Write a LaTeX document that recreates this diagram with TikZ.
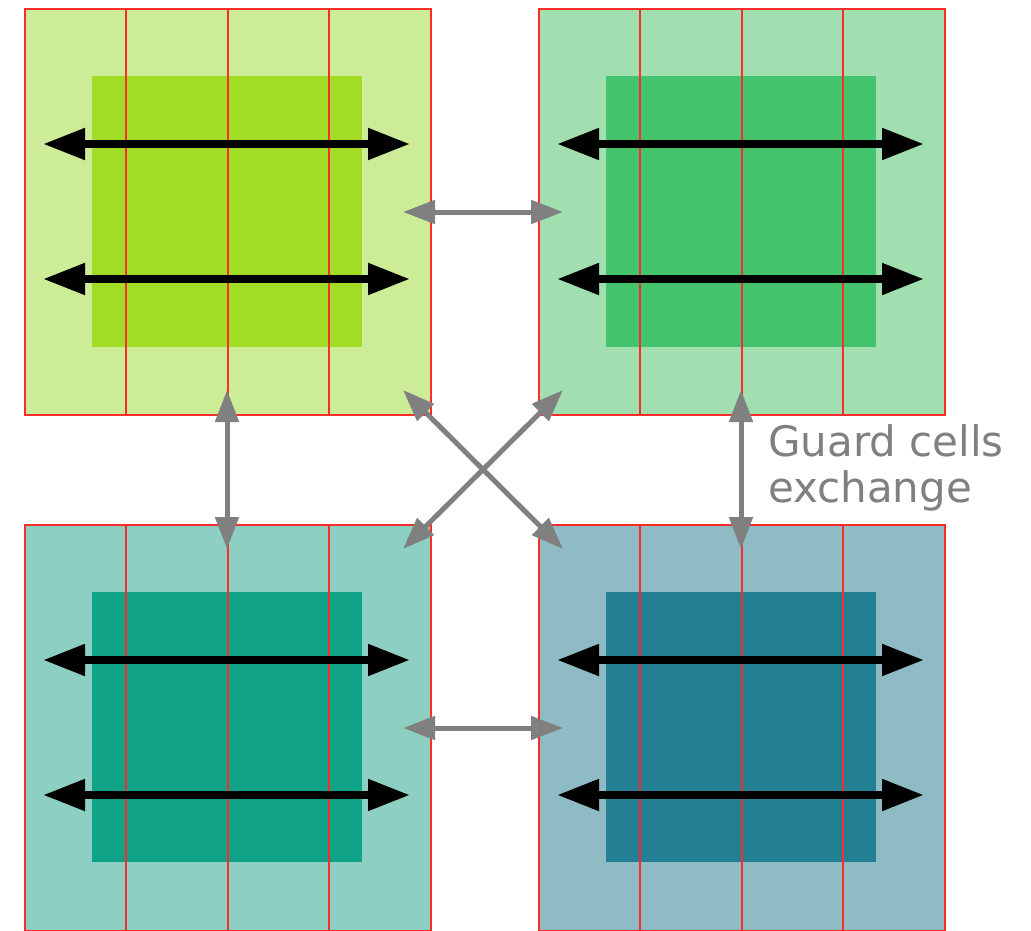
\documentclass[tikz,border=0pt]{standalone}
\usepackage{fontspec}
\setmainfont{DejaVu Sans}
\usetikzlibrary{arrows.meta}
\definecolor{tlout}{HTML}{CDEC97}
\definecolor{tlin}{HTML}{A3DC24}
\definecolor{trout}{HTML}{A1DFB1}
\definecolor{trin}{HTML}{43C36C}
\definecolor{blout}{HTML}{8ECFC3}
\definecolor{blin}{HTML}{11A388}
\definecolor{brout}{HTML}{8FBBC5}
\definecolor{brin}{HTML}{227F94}
\definecolor{gridred}{HTML}{FF2A2A}
\definecolor{xgray}{HTML}{808080}
\tikzset{
  block/.style={draw=gridred, line width=1.6pt, minimum size=406pt, inner sep=0pt, outer sep=0pt},
  core/.style={minimum size=270pt, inner sep=0pt, outer sep=0pt},
  gridline/.style={draw=gridred, line width=1.6pt},
  bigarrow/.style={line width=8pt, {Triangle[length=42pt,width=30pt]}-{Triangle[length=42pt,width=30pt]}},
  garrow/.style={draw=xgray, line width=5pt, {Triangle[length=32pt,width=23pt]}-{Triangle[length=32pt,width=23pt]}},
  label/.style={text=xgray, font=\fontsize{42}{46}\selectfont, align=left, inner sep=0pt}
}
\begin{document}
\begin{tikzpicture}[x=1pt,y=-1pt]
\useasboundingbox (0,0) rectangle (1031,931);
\node[block, fill=tlout] (tl) at (228,212) {};
\node[block, fill=trout] (tr) at (742,212) {};
\node[block, fill=blout] (bl) at (228,728) {};
\node[block, fill=brout] (br) at (742,728) {};
\node[core, fill=tlin] (tlc) at (226.5,211.5) {};
\node[core, fill=trin] (trc) at (741,211.5) {};
\node[core, fill=blin] (blc) at (226.5,726.5) {};
\node[core, fill=brin] (brc) at (741,726.5) {};
\foreach \b in {tl,tr,bl,br} {
  \draw[gridline] ([xshift=-102pt]\b.north) -- ([xshift=-102pt]\b.south);
  \draw[gridline] (\b.north) -- (\b.south);
  \draw[gridline] ([xshift=101pt]\b.north) -- ([xshift=101pt]\b.south);
  \draw[bigarrow] ([shift={(-185,-68)}]\b.center) -- ([shift={(182,-68)}]\b.center);
  \draw[bigarrow] ([shift={(-185,67)}]\b.center) -- ([shift={(182,67)}]\b.center);
}
\draw[garrow] ([xshift=-28pt]tl.east) -- ([xshift=24pt]tr.west);
\draw[garrow] ([xshift=-28pt]bl.east) -- ([xshift=24pt]br.west);
\draw[garrow] ([shift={(-1,-25)}]tl.south) -- ([shift={(-1,24)}]bl.north);
\draw[garrow] ([shift={(-1,-25)}]tr.south) -- ([shift={(-1,24)}]br.north);
\draw[garrow] ([shift={(-28,-25)}]tl.south east) -- ([shift={(24,24)}]br.north west);
\draw[garrow] ([shift={(24,-25)}]tr.south west) -- ([shift={(-28,24)}]bl.north east);
\node[label, anchor=base west] (txt) at (768,502) {Guard cells\\exchange};
\end{tikzpicture}
\end{document}
